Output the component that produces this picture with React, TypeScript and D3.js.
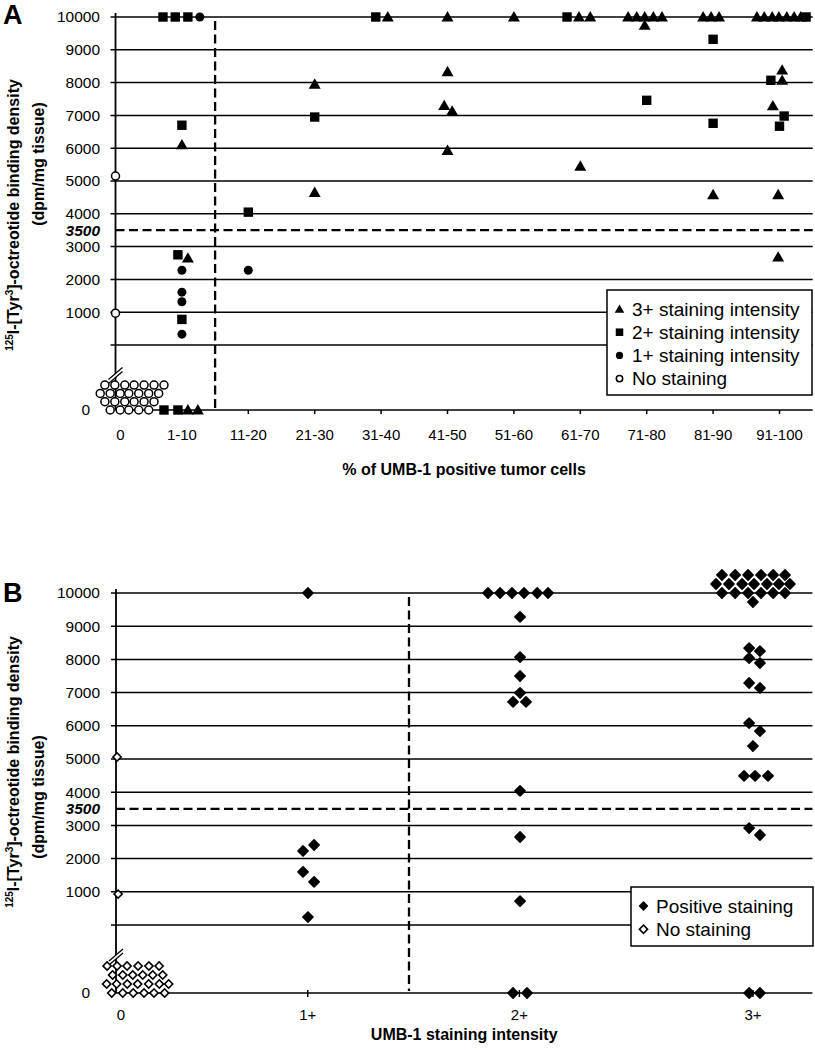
import React from "react";
import * as d3 from "d3";

// [x position in category units (jittered as plotted), value in dpm/mg, stack level]
type Pt = [number, number, number?];

const yTickValues = [0, 1000, 2000, 3000, 4000, 5000, 6000, 7000, 8000, 9000, 10000];
const threshold = 3500;

// ---------- Panel A: % of UMB-1 positive tumor cells ----------
const catsA = ["0", "1-10", "11-20", "21-30", "31-40", "41-50", "51-60", "61-70", "71-80", "81-90", "91-100"];
const dividerA = 1.5;

const tri3A: Pt[] = [
  [1.0, 6100], [1.09, 2650], [1.09, 0], [1.24, 0],
  [3.0, 7950], [3.0, 4650],
  [4.1, 10000],
  [5.0, 10000], [5.0, 8330], [4.95, 7300], [5.07, 7130], [5.0, 5930],
  [6.0, 10000],
  [6.98, 10000], [7.15, 10000], [7.0, 5450],
  [7.72, 10000], [7.85, 10000], [7.97, 10000], [8.1, 10000], [8.23, 10000], [7.97, 10000, -1],
  [8.85, 10000], [8.97, 10000], [9.09, 10000], [9.0, 4580],
  [9.66, 10000], [9.77, 10000], [9.89, 10000], [9.99, 10000], [10.11, 10000], [10.22, 10000], [10.32, 10000],
  [10.04, 8380], [10.04, 8070], [9.9, 7290], [9.98, 4580], [9.98, 2680],
];
const sq2A: Pt[] = [
  [0.715, 10000], [0.9, 10000], [1.09, 10000], [1.0, 6700], [0.94, 2750], [1.0, 780], [0.73, 0], [0.94, 0],
  [2.0, 4050],
  [3.0, 6950],
  [3.92, 10000],
  [6.8, 10000],
  [8.0, 7460],
  [9.0, 9320], [9.0, 6760],
  [10.4, 10000], [9.87, 8070], [10.07, 6980], [10.0, 6670],
];
const dot1A: Pt[] = [
  [1.27, 10000], [1.0, 2280], [1.0, 1610], [1.0, 1320], [1.0, 330],
  [2.0, 2280],
];
const noneA: Pt[] = [
  [0, 5150], [0, 970],
  [-0.16, 0, 3], [-0.01, 0, 3], [0.14, 0, 3], [0.28, 0, 3], [0.43, 0, 3], [0.58, 0, 3], [0.73, 0, 3],
  [-0.23, 0, 2], [-0.08, 0, 2], [0.07, 0, 2], [0.2, 0, 2], [0.35, 0, 2], [0.5, 0, 2], [0.65, 0, 2],
  [-0.16, 0, 1], [-0.01, 0, 1], [0.14, 0, 1], [0.28, 0, 1], [0.43, 0, 1], [0.58, 0, 1],
  [-0.08, 0, 0], [0.07, 0, 0], [0.2, 0, 0], [0.35, 0, 0], [0.5, 0, 0],
];

// ---------- Panel B: UMB-1 staining intensity ----------
const catsB = ["0", "1+", "2+", "3+"];
const catPosB = [0, 0.903, 1.9, 3.0];
const dividerB = 1.38;

const posB: Pt[] = [
  [0.904, 10000], [0.881, 2230], [0.933, 2410], [0.881, 1600], [0.933, 1300], [0.904, 240],
  [1.752, 10000], [1.809, 10000], [1.865, 10000], [1.922, 10000], [1.984, 10000], [2.035, 10000],
  [1.903, 9280], [1.903, 8070], [1.903, 7500], [1.903, 6990], [1.87, 6720], [1.931, 6720],
  [1.903, 4040], [1.903, 2650], [1.903, 720], [1.87, 0], [1.936, 0],
  [2.854, 10000, 2], [2.916, 10000, 2], [2.977, 10000, 2], [3.038, 10000, 2], [3.095, 10000, 2], [3.151, 10000, 2],
  [2.826, 10000, 1], [2.887, 10000, 1], [2.949, 10000, 1], [3.005, 10000, 1], [3.066, 10000, 1], [3.122, 10000, 1], [3.174, 10000, 1],
  [2.854, 10000], [2.916, 10000], [2.977, 10000], [3.038, 10000], [3.095, 10000], [3.151, 10000],
  [3.0, 10000, -1],
  [2.982, 8340], [3.033, 8250], [2.982, 8040], [3.033, 7890], [2.982, 7290], [3.033, 7140],
  [2.982, 6080], [3.033, 5840], [3.0, 5390], [2.958, 4490], [3.01, 4490], [3.071, 4490],
  [2.982, 2920], [3.033, 2710], [2.982, 0], [3.033, 0],
];
const noneB: Pt[] = [
  [0.005, 5060], [0.01, 930],
  [-0.042, 0, 3], [0.005, 0, 3], [0.052, 0, 3], [0.104, 0, 3], [0.155, 0, 3], [0.203, 0, 3],
  [-0.016, 0, 2], [0.032, 0, 2], [0.079, 0, 2], [0.126, 0, 2], [0.173, 0, 2], [0.22, 0, 2],
  [-0.044, 0, 1], [0.003, 0, 1], [0.053, 0, 1], [0.102, 0, 1], [0.154, 0, 1], [0.204, 0, 1], [0.248, 0, 1],
  [-0.02, 0, 0], [0.032, 0, 0], [0.081, 0, 0], [0.132, 0, 0], [0.179, 0, 0], [0.229, 0, 0],
];

const FONT = "'Liberation Sans', Arial, Helvetica, sans-serif";

type Shape = "tri" | "sq" | "dot" | "open" | "dia" | "odia";

const triPath = d3.symbol(d3.symbolTriangle, 62)() as string;

function Marker({ shape, x, y, legend = false }: { shape: Shape; x: number; y: number; legend?: boolean }) {
  const k = legend ? 0.8 : 1;
  switch (shape) {
    case "tri":
      return <path d={triPath} transform={`translate(${x},${y + 1}) scale(${k})`} fill="#000" />;
    case "sq":
      return <rect x={x - 4.7 * k} y={y - 4.7 * k} width={9.4 * k} height={9.4 * k} fill="#000" />;
    case "dot":
      return <circle cx={x} cy={y} r={4.5 * k} fill="#000" />;
    case "open":
      return <circle cx={x} cy={y} r={4.0 * k} fill="#fff" stroke="#000" strokeWidth={1.5} />;
    case "dia":
      return <rect x={-4.4 * k} y={-4.4 * k} width={8.8 * k} height={8.8 * k} rx={0.8} fill="#000"
        transform={`translate(${x},${y}) rotate(45)`} />;
    case "odia":
      return <rect x={-2.9} y={-2.9} width={5.8} height={5.8} fill="#fff" stroke="#000" strokeWidth={1.6}
        transform={`translate(${x},${y}) rotate(45)`} />;
  }
}

interface PanelProps {
  letter: string;
  letterY: number;
  cats: string[];
  catPos: number[];
  xMax: number;
  left: number;
  right: number;
  top: number;
  zero: number;
  base: number;
  gap: number;
  divider: number;
  series: { pts: Pt[]; shape: Shape }[];
  legend: { shape: Shape; label: string }[];
  legendBox: { x: number; y: number; w: number; h: number };
  xTitle: string;
  titleY: number;
  catLabelY: number;
  yTitle1: number;
  yTitle2: number;
  tickDown: number;
}

function Panel(p: PanelProps) {
  const x = d3.scaleLinear().domain([0, p.xMax]).range([p.left, p.right]);
  const y = d3.scaleLinear().domain([0, 10000]).range([p.zero, p.top]);
  const py = (d: Pt) => (d[1] === 0 ? p.base : y(d[1])) - (d[2] ?? 0) * p.gap;
  const gridX0 = p.left - 5;
  return (
    <g fontFamily={FONT}>
      <text x={3} y={p.letterY} fontSize={27} fontWeight="bold">{p.letter}</text>
      {/* gridlines */}
      {yTickValues.map((v) => (
        <line key={v} x1={gridX0} x2={p.right} y1={y(v)} y2={y(v)} stroke="#000" strokeWidth={1.5} />
      ))}
      {yTickValues.filter((v) => v > 0).map((v) => (
        <text key={v} x={100} y={y(v)} dy="0.35em" textAnchor="end" fontSize={15.5}>{v}</text>
      ))}
      <text x={90} y={p.base} dy="0.35em" textAnchor="end" fontSize={15.5}>0</text>
      <text x={100} y={y(threshold)} dy="0.35em" textAnchor="end" fontSize={15.5} fontWeight="bold" fontStyle="italic">
        {threshold}
      </text>
      {/* bottom axis */}
      <line x1={p.left} x2={p.right} y1={p.base} y2={p.base} stroke="#000" strokeWidth={1.5} />
      {p.catPos.slice(1).map((c) => (
        <line key={c} x1={x(c)} x2={x(c)} y1={p.base - p.tickDown + 4} y2={p.base + 4} stroke="#000" strokeWidth={1.5} />
      ))}
      {p.cats.map((c, i) => (
        <text key={c} x={x(p.catPos[i]) + (i === 0 ? 5 : 0)} y={p.catLabelY} textAnchor="middle" fontSize={15}>{c}</text>
      ))}
      {/* threshold dashed lines */}
      <line x1={p.left} x2={p.right} y1={y(threshold)} y2={y(threshold)} stroke="#000" strokeWidth={2.3} strokeDasharray="9,4.5" />
      <line x1={x(p.divider)} x2={x(p.divider)} y1={p.top + 4} y2={p.base - 2} stroke="#000" strokeWidth={2.3} strokeDasharray="9,4.5" />
      {/* y axis with break */}
      <line x1={p.left} x2={p.left} y1={p.top - 4} y2={p.base} stroke="#000" strokeWidth={1.8} />
      <g transform={`translate(${p.left},${(p.zero + p.base) / 2 - 5})`}>
        <polygon points="-7,7 7,-5 7,-1 -7,11" fill="#fff" />
        <line x1={-7} y1={7} x2={7} y2={-5} stroke="#000" strokeWidth={1.3} />
        <line x1={-7} y1={11} x2={7} y2={-1} stroke="#000" strokeWidth={1.3} />
      </g>
      {/* points */}
      {p.series.map((s, si) => (
        <g key={si}>
          {s.pts.map((d, i) => (
            <Marker key={i} shape={s.shape} x={x(d[0])} y={py(d)} />
          ))}
        </g>
      ))}
      {/* legend */}
      <rect x={p.legendBox.x} y={p.legendBox.y} width={p.legendBox.w} height={p.legendBox.h} fill="#fff" stroke="#000" strokeWidth={1.5} />
      {p.legend.map((l, i) => (
        <g key={l.label}>
          <Marker shape={l.shape} x={p.legendBox.x + 12.5} y={p.legendBox.y + 19 + i * 23.2} legend />
          <text x={p.legendBox.x + 25} y={p.legendBox.y + 19 + i * 23.2} dy="0.35em" fontSize={19}>{l.label}</text>
        </g>
      ))}
      {/* titles */}
      <text x={(p.left + p.right) / 2} y={p.titleY} textAnchor="middle" fontSize={16} fontWeight="bold">{p.xTitle}</text>
      <text transform={`translate(19,${p.yTitle1}) rotate(-90)`} textAnchor="middle" dy="0.35em" fontSize={16} fontWeight="bold">
        <tspan fontSize={10} dy="-6">125</tspan>
        <tspan dy="6">I-[Tyr</tspan>
        <tspan fontSize={10} dy="-6">3</tspan>
        <tspan dy="6">]-octreotide binding density</tspan>
      </text>
      <text transform={`translate(38,${p.yTitle2}) rotate(-90)`} textAnchor="middle" dy="0.35em" fontSize={16} fontWeight="bold">
        (dpm/mg tissue)
      </text>
    </g>
  );
}

export default function App() {
  return (
    <svg width={815} height={1050} style={{ position: "absolute", left: 0, top: 0, background: "#fff" }}>
      <rect width={815} height={1050} fill="#fff" />
      <Panel
        letter="A" letterY={24}
        cats={catsA} catPos={catsA.map((_, i) => i)} xMax={10.5}
        left={115.5} right={812.7} top={17} zero={345} base={410} gap={8.3}
        divider={dividerA}
        series={[
          { pts: noneA, shape: "open" },
          { pts: dot1A, shape: "dot" },
          { pts: sq2A, shape: "sq" },
          { pts: tri3A, shape: "tri" },
        ]}
        legend={[
          { shape: "tri", label: "3+ staining intensity" },
          { shape: "sq", label: "2+ staining intensity" },
          { shape: "dot", label: "1+ staining intensity" },
          { shape: "open", label: "No staining" },
        ]}
        legendBox={{ x: 607, y: 290, w: 205, h: 105 }}
        xTitle="% of UMB-1 positive tumor cells" titleY={475} catLabelY={440}
        yTitle1={215} yTitle2={164} tickDown={4}
      />
      <Panel
        letter="B" letterY={602}
        cats={catsB} catPos={catPosB} xMax={3.28}
        left={116} right={812.4} top={593} zero={925} base={993} gap={9}
        divider={dividerB}
        series={[
          { pts: noneB, shape: "odia" },
          { pts: posB, shape: "dia" },
        ]}
        legend={[
          { shape: "dia", label: "Positive staining" },
          { shape: "odia", label: "No staining" },
        ]}
        legendBox={{ x: 631, y: 887, w: 182, h: 59 }}
        xTitle="UMB-1 staining intensity" titleY={1040} catLabelY={1020}
        yTitle1={772} yTitle2={797} tickDown={7}
      />
    </svg>
  );
}
